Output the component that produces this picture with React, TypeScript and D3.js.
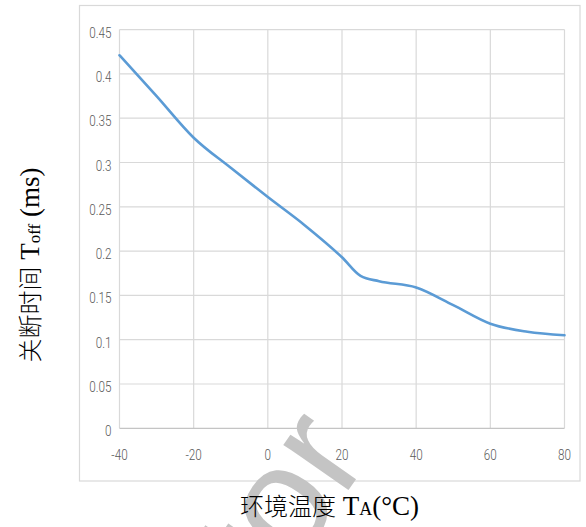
import React from "react";
import * as d3 from "d3";

const temps = [-40, -30, -20, -10, 0, 10, 20, 25, 30, 40, 50, 60, 70, 80];
const toff = [0.421, 0.375, 0.328, 0.294, 0.261, 0.229, 0.193, 0.172, 0.166, 0.159, 0.139, 0.118, 0.109, 0.105];
const xTicks = [-40, -20, 0, 20, 40, 60, 80];
const yTicks = [0, 0.05, 0.1, 0.15, 0.2, 0.25, 0.3, 0.35, 0.4, 0.45];
const yTickLabels = ["0", "0.05", "0.1", "0.15", "0.2", "0.25", "0.3", "0.35", "0.4", "0.45"];

const W = 586;
const H = 527;
const plot = { left: 119.5, right: 564.5, top: 29.6, bottom: 428.3 };

export default function App() {
  const x = d3.scaleLinear().domain([-40, 80]).range([plot.left, plot.right]);
  const y = d3.scaleLinear().domain([0, 0.45]).range([plot.bottom, plot.top]);
  const data = temps.map((t, i) => [t, toff[i]] as [number, number]);
  const line = d3
    .line<[number, number]>()
    .x((d) => x(d[0]))
    .y((d) => y(d[1]))
    .curve(d3.curveMonotoneX);

  const tickFont = "Roboto, 'Open Sans', sans-serif";
  const serif = "'Liberation Serif', 'Noto Sans CJK SC', serif";
  const cjk = "'Noto Sans CJK SC', sans-serif";

  return (
    <svg
      width={W}
      height={H}
      style={{ position: "absolute", left: 0, top: 0, background: "#fff" }}
    >
      <rect x={0} y={0} width={W} height={H} fill="#fff" />
      <rect x={79.5} y={5.5} width={500.5} height={475.5} fill="none" stroke="#d9d9d9" strokeWidth={1.2} />
      {xTicks.map((t) => (
        <line key={"gx" + t} x1={x(t)} x2={x(t)} y1={plot.top} y2={plot.bottom} stroke="#d9d9d9" strokeWidth={1.2} />
      ))}
      {yTicks.map((v) => (
        <line
          key={"gy" + v}
          x1={plot.left}
          x2={plot.right}
          y1={y(v)}
          y2={y(v)}
          stroke={v === 0 ? "#c4c4c4" : "#d9d9d9"}
          strokeWidth={1.2}
        />
      ))}
      <path d={line(data) || ""} fill="none" stroke="#5b9bd5" strokeWidth={2.6} strokeLinecap="round" strokeLinejoin="round" />

      {/* watermark */}
      <g transform="translate(289,507) rotate(-55)">
        <text
          x={0}
          y={39}
          textAnchor="middle"
          fontFamily="'Liberation Sans', Arial, sans-serif"
          fontSize={150}
          fill="#c4c4c4"
        >
          tor
        </text>
      </g>

      {yTicks.map((v, i) => (
        <text
          key={"ly" + v}
          transform={`translate(111.5, ${y(v) + 8}) scale(0.78,1)`}
          textAnchor="end"
          fontFamily={tickFont}
          fontWeight={300}
          fontSize={15}
          fill="#595959"
        >
          {yTickLabels[i]}
        </text>
      ))}
      {xTicks.map((t) => (
        <text
          key={"lx" + t}
          transform={`translate(${x(t)}, 460) scale(0.78,1)`}
          textAnchor="middle"
          fontFamily={tickFont}
          fontWeight={300}
          fontSize={15}
          fill="#595959"
        >
          {String(t)}
        </text>
      ))}

      <text
        transform="translate(39, 265) rotate(-90)"
        textAnchor="middle"
        fontFamily={serif}
        fontSize={27}
        fill="#000"
      >
        <tspan fontFamily={cjk} fontSize={24} fontWeight={300}>关断时间</tspan>
        <tspan> T</tspan>
        <tspan fontSize={17} dy={1}>off</tspan>
        <tspan dy={-1}> (ms)</tspan>
      </text>
      <text x={329.5} y={515} textAnchor="middle" fontFamily={serif} fontSize={27} fill="#000">
        <tspan fontFamily={cjk} fontSize={24} fontWeight={300}>环境温度</tspan>
        <tspan> T</tspan>
        <tspan fontSize={18}>A</tspan>
        <tspan>(°C)</tspan>
      </text>
    </svg>
  );
}
